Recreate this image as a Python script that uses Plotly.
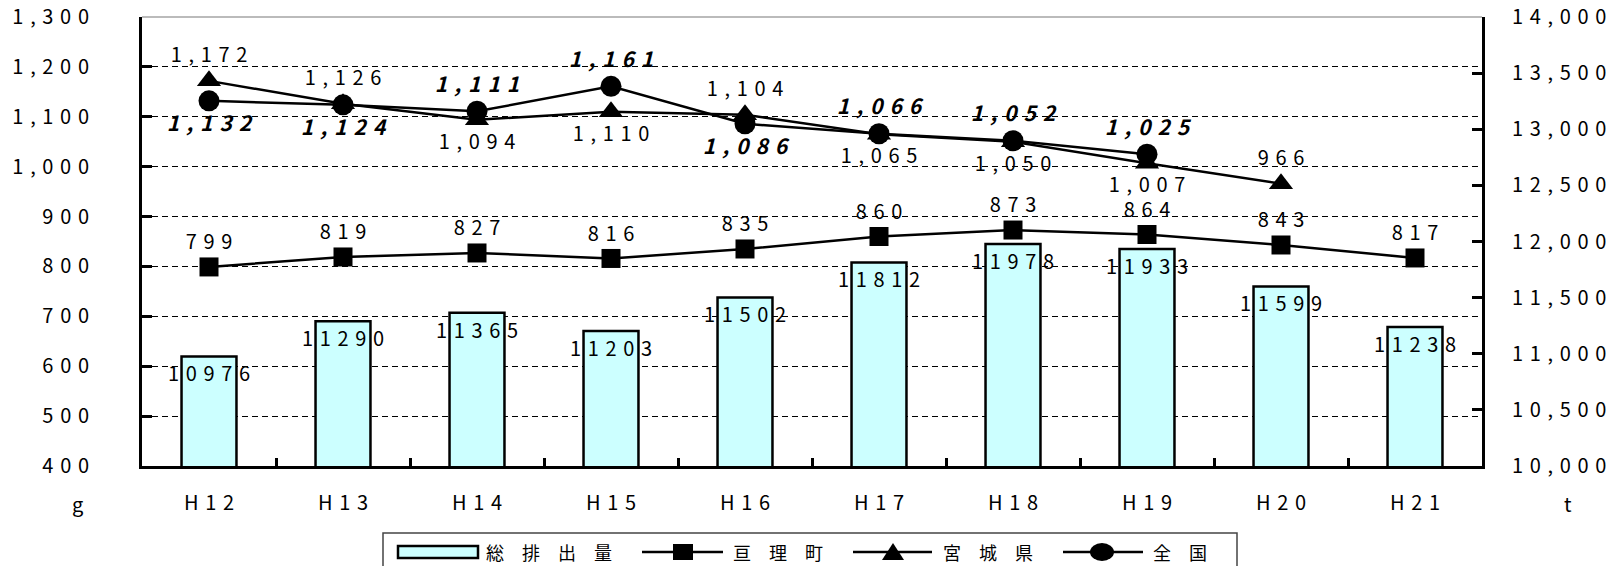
import plotly.graph_objects as go

# 年度
years = ["H12", "H13", "H14", "H15", "H16", "H17", "H18", "H19", "H20", "H21"]

# 総排出量 (t)
total_t = [10976, 11290, 11365, 11203, 11502, 11812, 11978, 11933, 11599, 11238]
# 1人1日当たり排出量 (g)
watari_g = [799, 819, 827, 816, 835, 860, 873, 864, 843, 817]
miyagi_g = [1172, 1126, 1094, 1110, 1104, 1065, 1050, 1007, 966, None]
zenkoku_g = [1132, 1124, 1111, 1161, 1086, 1066, 1052, 1025, None, None]

left_ticks = list(range(400, 1301, 100))
right_ticks = list(range(10000, 14001, 500))

FONT = "Noto Sans CJK JP"
FS = 20
GAP = "\u2004"  # three-per-em space between characters
EM = "\u2003"   # em space for the legend captions

W, H = 1619, 566
ML, MR, MT, MB = 142, 137, 17, 100
PW, PH = W - ML - MR, H - MT - MB


def spaced(s, sep=GAP):
    return sep.join(str(s))


def fmt(v, comma=True):
    if v is None:
        return ""
    return spaced(f"{v:,}" if comma else str(v))


def px(x):   # pixel column -> paper x
    return (x - ML) / PW


def py(y):   # pixel row -> paper y
    return (H - MB - y) / PH


cats = [spaced(y) for y in years]

miyagi_pos = ["top center", "top center", "bottom center", "bottom center", "top center",
              "bottom center", "bottom center", "bottom center", "top center", "top center"]
zenkoku_pos = ["bottom center", "bottom center", "top center", "top center", "bottom center",
               "top center", "top center", "top center", "top center", "top center"]

fig = go.Figure()

# 総排出量 bars on the t axis (right side)
fig.add_trace(go.Bar(
    x=cats, y=total_t, yaxis="y", showlegend=False,
    marker=dict(color="#CCFFFF", line=dict(color="black", width=2.5)),
    width=0.41, hoverinfo="x+y",
))
fig.add_trace(go.Scatter(
    x=cats, y=total_t, mode="markers+text", yaxis="y", showlegend=False,
    marker=dict(size=14, opacity=0),
    text=[fmt(v, comma=False) for v in total_t], textposition="bottom center",
    textfont=dict(family=FONT, size=FS, color="black"), hoverinfo="skip",
))

# per-person lines on the g axis (left side)
fig.add_trace(go.Scatter(
    x=cats, y=watari_g, yaxis="y2", mode="lines+markers+text", showlegend=False,
    line=dict(color="black", width=2.5),
    marker=dict(symbol="square", size=19, color="black"),
    text=[fmt(v) for v in watari_g], textposition="top center",
    textfont=dict(family=FONT, size=FS, color="black"),
))
fig.add_trace(go.Scatter(
    x=cats, y=miyagi_g, yaxis="y2", mode="lines+markers+text", showlegend=False,
    line=dict(color="black", width=2.5),
    marker=dict(symbol="triangle-up", size=21, color="black"),
    text=[fmt(v) for v in miyagi_g], textposition=miyagi_pos,
    textfont=dict(family=FONT, size=FS, color="black"),
))
fig.add_trace(go.Scatter(
    x=cats, y=zenkoku_g, yaxis="y2", mode="lines+markers+text", showlegend=False,
    line=dict(color="black", width=2.5),
    marker=dict(symbol="circle", size=21, color="black"),
    text=[fmt(v) for v in zenkoku_g], textposition=zenkoku_pos,
    textfont=dict(family=FONT, size=21, color="black", weight="bold", style="italic"),
))

# legend box drawn below the plot
LY = 552
shapes = [
    dict(type="line", xref="paper", yref="paper", x0=0, x1=1, y0=1, y1=1,
         line=dict(color="#BBBBBB", width=2)),
    dict(type="rect", xref="paper", yref="paper", x0=px(383), x1=px(1237),
         y0=py(533), y1=py(580), line=dict(color="#444444", width=1.5), fillcolor="white"),
    # 総排出量 swatch
    dict(type="rect", xref="paper", yref="paper", x0=px(398), x1=px(478),
         y0=py(546), y1=py(558), line=dict(color="black", width=2.5), fillcolor="#CCFFFF"),
    # 亘理町
    dict(type="line", xref="paper", yref="paper", x0=px(642), x1=px(723), y0=py(LY), y1=py(LY),
         line=dict(color="black", width=2.5)),
    dict(type="rect", xref="paper", yref="paper", x0=px(673), x1=px(693),
         y0=py(LY - 8), y1=py(LY + 8), line=dict(width=0), fillcolor="black"),
    # 宮城県
    dict(type="line", xref="paper", yref="paper", x0=px(853), x1=px(932), y0=py(LY), y1=py(LY),
         line=dict(color="black", width=2.5)),
    dict(type="path", xref="paper", yref="paper",
         path=f"M {px(882)} {py(LY + 8)} L {px(904)} {py(LY + 8)} L {px(893)} {py(LY - 9)} Z",
         line=dict(width=0), fillcolor="black"),
    # 全国
    dict(type="line", xref="paper", yref="paper", x0=px(1063), x1=px(1143), y0=py(LY), y1=py(LY),
         line=dict(color="black", width=2.5)),
    dict(type="circle", xref="paper", yref="paper", x0=px(1090), x1=px(1114),
         y0=py(LY - 9), y1=py(LY + 9), line=dict(width=0), fillcolor="black"),
]

legend_texts = [("総排出量", 549), ("亘理町", 778), ("宮城県", 988), ("全国", 1180)]
annotations = [
    dict(text=spaced(t, EM), xref="paper", yref="paper", x=px(cx), y=py(LY),
         xanchor="center", yanchor="middle", showarrow=False,
         font=dict(family=FONT, size=18, color="black"))
    for t, cx in legend_texts
]
annotations += [
    dict(text="g", xref="paper", yref="paper", x=px(77), y=py(503), xanchor="center",
         yanchor="middle", showarrow=False, font=dict(family=FONT, size=FS)),
    dict(text="t", xref="paper", yref="paper", x=px(1568), y=py(503), xanchor="center",
         yanchor="middle", showarrow=False, font=dict(family=FONT, size=FS)),
]

fig.update_layout(
    width=W, height=H,
    margin=dict(l=ML, r=MR, t=MT, b=MB, autoexpand=False),
    paper_bgcolor="white", plot_bgcolor="white",
    font=dict(family=FONT, size=FS, color="black"),
    showlegend=False,
    xaxis=dict(
        type="category", showline=True, linecolor="black", linewidth=3,
        ticks="inside", ticklen=8, tickwidth=3, tickcolor="black", tickson="boundaries",
        showgrid=False, ticklabelstandoff=17, range=[-0.5, 9.5], automargin=False,
        tickfont=dict(family=FONT, size=FS),
    ),
    yaxis=dict(
        side="right", range=[10000, 14000], tickvals=right_ticks,
        ticktext=[fmt(v) for v in right_ticks],
        showline=True, linecolor="black", linewidth=3,
        ticks="inside", ticklen=10, tickwidth=3, tickcolor="black",
        showgrid=False, zeroline=False, ticklabelstandoff=23, automargin=False,
        tickfont=dict(family=FONT, size=FS),
    ),
    yaxis2=dict(
        side="left", overlaying="y", range=[400, 1300], tickvals=left_ticks,
        ticktext=[fmt(v) for v in left_ticks],
        showline=True, linecolor="black", linewidth=3,
        ticks="inside", ticklen=10, tickwidth=3, tickcolor="black",
        showgrid=True, gridcolor="black", gridwidth=1, griddash="6px,4px",
        zeroline=False, ticklabelstandoff=46, automargin=False,
        tickfont=dict(family=FONT, size=FS),
    ),
    shapes=shapes,
    annotations=annotations,
)

fig.write_html("out.html")
